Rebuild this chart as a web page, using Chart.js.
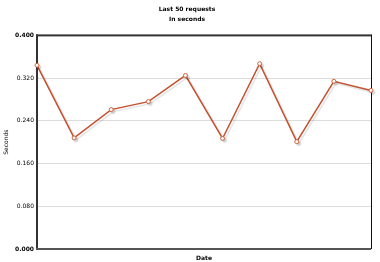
<!DOCTYPE html>
<html>
<head>
<meta charset="utf-8">
<script src="https://cdn.jsdelivr.net/npm/chart.js@4/dist/chart.umd.min.js"></script>
<style>
  html, body { margin: 0; padding: 0; background: #fff; }
  #wrap { width: 380px; height: 262px; }
</style>
</head>
<body>
<div id="wrap"><canvas id="requestsChart" width="380" height="262"></canvas></div>
<script>
// values (seconds per request sample)
const requestLabels = ['', '', '', '', '', '', '', '', '', ''];
const requestTimes = [0.344, 0.208, 0.261, 0.276, 0.325, 0.207, 0.347, 0.201, 0.314, 0.297];
const titleLines = ['Last 50 requests', 'In seconds'];
const yMin = 0;
const yMax = 0.4;
const yStep = 0.08;

// dark frame around plot area, like the old flash chart
const framePlugin = {
    id: 'frame',
    beforeDatasetsDraw(chart) {
        const a = chart.chartArea;
        const c = chart.ctx;
        c.save();
        c.fillStyle = '#333';
        c.fillRect(a.left - 1, a.top - 1, a.right - a.left + 1, 2);
        c.fillRect(a.left - 1, a.top - 1, 2, a.bottom - a.top + 2);
        c.fillStyle = '#555';
        c.fillRect(a.left - 1, a.bottom - 1, a.right - a.left + 1, 2);
        c.fillStyle = '#111';
        c.fillRect(a.right, a.top - 1, 1, a.bottom - a.top + 1);
        c.restore();
    }
};

const shadowPlugin = {
    id: 'lineShadow',
    beforeDatasetDraw(chart) {
        const c = chart.ctx;
        c.save();
        c.shadowColor = 'rgba(0,0,0,0.12)';
        c.shadowOffsetX = 2;
        c.shadowOffsetY = 2;
        c.shadowBlur = 1;
    },
    afterDatasetDraw(chart) {
        chart.ctx.restore();
    }
};

const ctx = document.getElementById('requestsChart').getContext('2d');
const requestsChart = new Chart(ctx, {
    type: 'line',
    data: {
        labels: requestLabels,
        datasets: [{
            data: requestTimes,
            borderColor: '#c4502e',
            borderWidth: 1.5,
            pointRadius: 2,
            pointBackgroundColor: '#fff',
            pointBorderColor: '#d0613c',
            pointBorderWidth: 1,
            tension: 0,
            clip: false
        }]
    },
    options: {
        responsive: false,
        animation: false,
        layout: { padding: { left: 3, right: 9, top: 0, bottom: 0 } },
        plugins: {
            legend: { display: false },
            tooltip: { enabled: false },
            title: {
                display: true,
                text: titleLines,
                color: '#000',
                font: { family: 'DejaVu Sans', size: 6, weight: 'bold', lineHeight: 1.7 },
                padding: { top: 4, bottom: 11 }
            }
        },
        scales: {
            x: {
                offset: false,
                grid: { display: false },
                border: { display: false },
                ticks: { display: false },
                title: {
                    display: true,
                    text: 'Date',
                    color: '#000',
                    font: { family: 'DejaVu Sans', size: 6, weight: 'bold' },
                    padding: { top: 1, bottom: 0 }
                },
                afterFit(scale) { scale.height = 13; }
            },
            y: {
                min: yMin,
                max: yMax,
                border: { display: false },
                grid: { color: '#dcdcdc', lineWidth: 1, drawTicks: false },
                ticks: {
                    stepSize: yStep,
                    padding: 3,
                    color: '#000',
                    font: ctx2 => ({
                        family: 'DejaVu Sans',
                        size: 6,
                        weight: (ctx2.tick && (ctx2.tick.value === yMin || ctx2.tick.value === yMax)) ? 'bold' : 'normal'
                    }),
                    callback: v => v.toFixed(3)
                },
                title: {
                    display: true,
                    text: 'Seconds',
                    color: '#000',
                    font: { family: 'DejaVu Sans', size: 6 },
                    padding: { top: 0, bottom: 0 }
                },
                afterFit(scale) { scale.width = 34; }
            }
        }
    },
    plugins: [framePlugin, shadowPlugin]
});
</script>
</body>
</html>
